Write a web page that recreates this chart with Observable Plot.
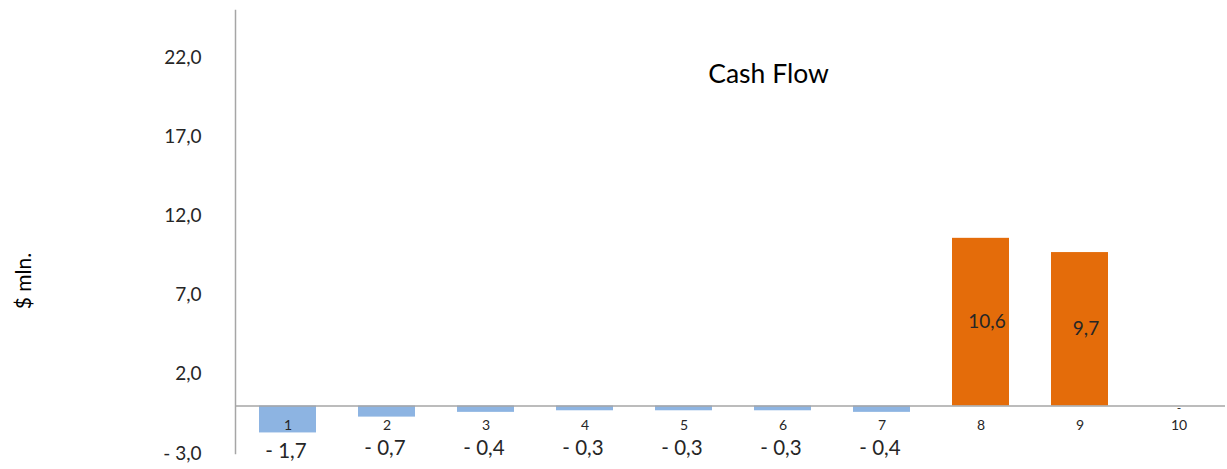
<!DOCTYPE html>
<html>
<head>
<meta charset="utf-8">
<script src="https://cdn.jsdelivr.net/npm/d3@7"></script>
<script src="https://cdn.jsdelivr.net/npm/@observablehq/plot@0.6"></script>
<style>
  html, body { margin: 0; padding: 0; background: #fff; }
  #chart svg { display: block; }
</style>
</head>
<body>
<div id="chart"></div>
<script>
const categories = ["1", "2", "3", "4", "5", "6", "7", "8", "9", "10"];
const values = [-1.7, -0.7, -0.4, -0.3, -0.3, -0.3, -0.4, 10.6, 9.7, 0];
const yTicks = [-3, 2, 7, 12, 17, 22];
const title = "Cash Flow";
const yLabel = "$ mln.";

const data = categories.map((c, i) => ({cat: c, value: values[i]}));

const fmt = v => {
  const s = Math.abs(v).toFixed(1).replace(".", ",");
  return v < 0 ? "- " + s : s;
};
const BLUE = "#8DB4E2", ORANGE = "#E46C0A", GRID = "#a6a6a6", TXT = "#262626";

const chart = Plot.plot({
  width: 1227,
  height: 469,
  marginLeft: 235,
  marginRight: 2,
  marginTop: 10,
  marginBottom: 16,
  style: {fontFamily: "Lato, 'Open Sans', sans-serif", fontSize: "19px", color: TXT, background: "#fff"},
  x: {domain: categories, range: [235, 1231], paddingInner: 0.428, paddingOuter: 0.216, axis: null},
  y: {domain: [-3, 25], ticks: yTicks, tickSize: 0, tickPadding: 34, tickFormat: fmt, label: null},
  marks: [
    Plot.barY(data, {x: "cat", y: "value", fill: d => d.value < 0 ? BLUE : ORANGE}),
    Plot.ruleY([0], {stroke: GRID, strokeWidth: 1.5}),
    Plot.frame({anchor: "left", stroke: GRID, strokeWidth: 1.5}),
    Plot.text(data, {x: "cat", y: 0, dy: 19, text: "cat", fontSize: 14, fill: TXT}),
    Plot.text(data.filter(d => d.value < 0), {x: "cat", y: d => Math.min(d.value - 1.15, -2.68), dx: -2, text: d => fmt(d.value), fontSize: 20.5, fill: TXT}),
    Plot.text(data.filter(d => d.value > 0), {x: "cat", y: d => d.value / 2, dx: 6, text: d => fmt(d.value), fontSize: 19, fill: TXT}),
    Plot.text(data.filter(d => d.value === 0), {x: "cat", y: 0, dy: 2, text: d => "-", fontSize: 12, fill: TXT}),
    Plot.text([title], {frameAnchor: "top-left", dx: 768 - 235, dy: 64, textAnchor: "middle", lineAnchor: "middle", fontSize: 26.5, fill: "#000"}),
    Plot.text([yLabel], {frameAnchor: "left", dx: 24 - 235, dy: 49, rotate: -90, textAnchor: "middle", lineAnchor: "middle", fontSize: 21, letterSpacing: "2px", fill: "#000"})
  ]
});
document.getElementById("chart").appendChild(chart);
</script>
</body>
</html>
